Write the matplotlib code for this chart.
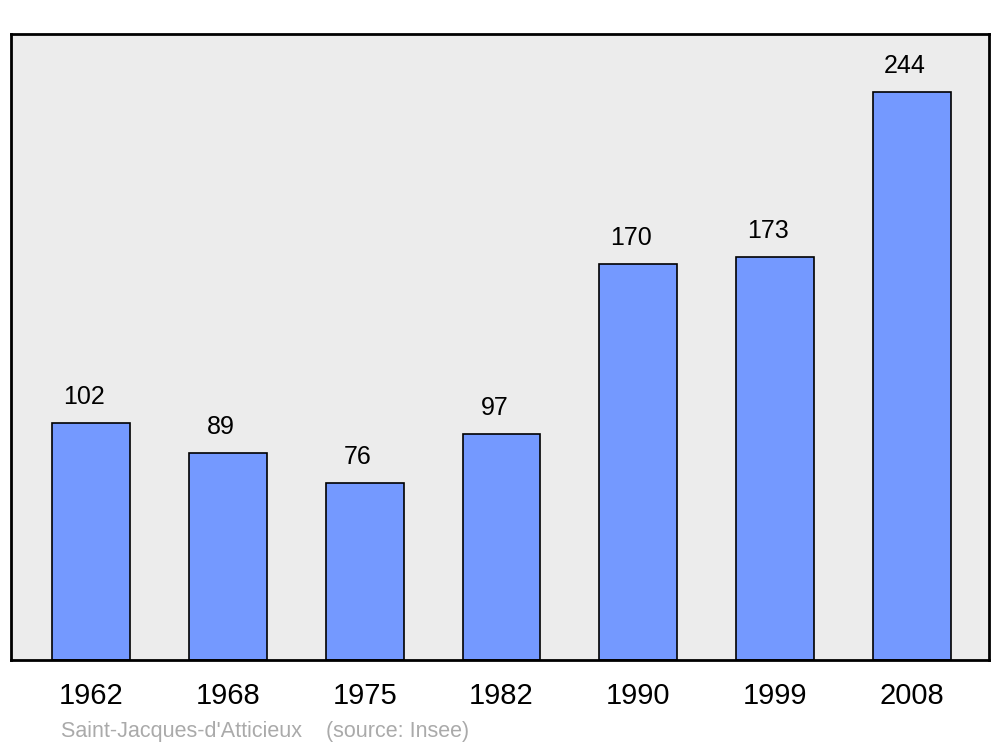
import matplotlib.pyplot as plt

years = ["1962", "1968", "1975", "1982", "1990", "1999", "2008"]
population = [102, 89, 76, 97, 170, 173, 244]
source_note = "Saint-Jacques-d'Atticieux    (source: Insee)"

fig = plt.figure(figsize=(10, 7.47), dpi=100)
ax = fig.add_axes([0.011, 1 - 660 / 747, 0.978, 626 / 747])
ax.set_facecolor("#ececec")

x = range(len(years))
ax.bar(x, population, width=0.57, color="#7499ff", edgecolor="black", linewidth=1.2, zorder=2)

for i, v in enumerate(population):
    ax.annotate(str(v), (i, v), xytext=(-5, 18.8), textcoords="offset points",
                ha="center", va="center", fontsize=18, family="Liberation Sans")

ax.set_xlim(-0.585, 6.563)
ax.set_ylim(0, 269)
ax.set_yticks([])
ax.set_xticks(list(x))
ax.set_xticklabels(years, fontsize=21, family="Liberation Sans")
ax.tick_params(axis="x", length=0, pad=16)
for s in ax.spines.values():
    s.set_linewidth(2)

fig.text(0.061, 1 - 732 / 747, source_note, fontsize=15.5, color="#aaaaaa",
         va="center", family="Liberation Sans")

fig.savefig("out.png", dpi=100)
